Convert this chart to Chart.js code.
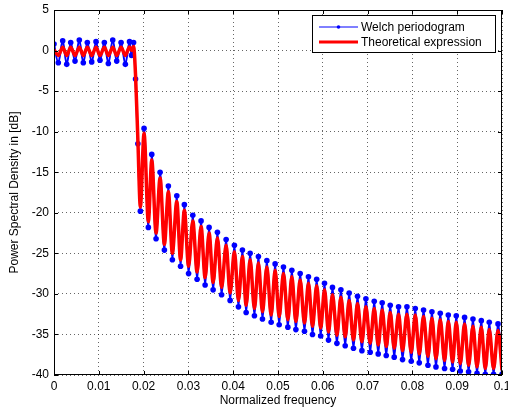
<!DOCTYPE html>
<html>
<head>
<meta charset="utf-8">
<title>Welch periodogram</title>
<script src="https://cdn.jsdelivr.net/npm/chart.js@4.4.0/dist/chart.umd.min.js"></script>
<style>
    html, body { margin: 0; padding: 0; background: #fff; }
    #grafica { display: block; }
</style>
</head>
<body>
<canvas id="grafica" width="508" height="408"></canvas>
<script>
// Frecuencias (maximos y minimos de cada rizado)
const freqs = [
    0, 0.00096, 0.00194, 0.00284, 0.00373, 0.00469, 0.00565, 0.00654,
    0.00744, 0.00842, 0.00938, 0.01027, 0.01124, 0.01213, 0.01311, 0.01400,
    0.01497, 0.01593, 0.01686, 0.01731, 0.01776, 0.01820, 0.01872, 0.01928,
    0.02010, 0.02106, 0.02182, 0.02278, 0.02368, 0.02464, 0.02553, 0.02642,
    0.02741, 0.02825, 0.02910, 0.03004, 0.03098, 0.03194, 0.03283, 0.03373,
    0.03462, 0.03552, 0.03648, 0.03741, 0.03842, 0.03931, 0.04027, 0.04117,
    0.04206, 0.04289, 0.04378, 0.04474, 0.04563, 0.04653, 0.04751, 0.04847,
    0.04936, 0.05026, 0.05122, 0.05220, 0.05309, 0.05399, 0.05495, 0.05591,
    0.05680, 0.05770, 0.05863, 0.05953, 0.06038, 0.06127, 0.06216, 0.06315,
    0.06404, 0.06500, 0.06589, 0.06685, 0.06775, 0.06873, 0.06962, 0.07058,
    0.07148, 0.07237, 0.07326, 0.07416, 0.07505, 0.07594, 0.07691, 0.07780,
    0.07878, 0.07974, 0.08064, 0.08153, 0.08249, 0.08347, 0.08436, 0.08526,
    0.08622, 0.08718, 0.08801, 0.08897, 0.08979, 0.09069, 0.09165, 0.09254,
    0.09352, 0.09442, 0.09538, 0.09627, 0.09716, 0.09812, 0.09911, 0.10000
];

const welchDb = [
    0.8, -1.5, 1.2, -1.7, 1.0, -1.3, 1.3, -1.5,
    1.0, -1.4, 1.1, -1.2, 1.0, -1.6, 1.3, -1.3,
    1.0, -1.7, 1.1, -0.6, 1.0, -3.5, -11.5, -19.8,
    -9.6, -21.8, -12.8, -23.2, -15.0, -24.6, -16.7, -25.8,
    -17.9, -26.6, -19.0, -27.5, -20.3, -28.2, -21.0, -28.9,
    -21.8, -29.5, -22.4, -30.1, -23.3, -30.8, -24.0, -31.6,
    -24.6, -32.3, -25.0, -32.7, -25.4, -33.1, -25.9, -33.5,
    -26.3, -33.8, -26.7, -34.1, -27.1, -34.4, -27.5, -34.6,
    -27.9, -35.0, -28.2, -35.2, -28.7, -35.7, -29.2, -36.1,
    -29.5, -36.4, -29.9, -36.7, -30.3, -37.0, -30.6, -37.2,
    -30.9, -37.4, -31.1, -37.6, -31.4, -37.8, -31.6, -38.1,
    -31.6, -38.3, -31.8, -38.5, -32.0, -38.8, -32.2, -39.0,
    -32.4, -39.2, -32.6, -39.3, -32.7, -39.5, -32.9, -39.6,
    -33.1, -39.8, -33.3, -39.9, -33.5, -39.9, -33.7, -39.9
];

const theoryDb = [
    0.1, -0.6, 0.4, -0.6, 0.4, -0.6, 0.4, -0.6,
    0.4, -0.6, 0.4, -0.6, 0.4, -0.6, 0.4, -0.6,
    0.4, -0.6, 0.45, 0.0, 0.5, -3, -11, -19.3,
    -10.2, -21.1, -13.5, -22.5, -15.7, -23.9, -17.4, -25.0,
    -18.6, -25.8, -19.7, -26.6, -21.0, -27.3, -21.7, -28.0,
    -22.5, -28.6, -23.1, -29.2, -24.0, -29.9, -24.8, -30.8,
    -25.4, -31.4, -25.8, -31.8, -26.2, -32.2, -26.7, -32.6,
    -27.1, -32.8, -27.5, -33.2, -27.9, -33.4, -28.3, -33.6,
    -28.7, -34.0, -29.0, -34.2, -29.5, -34.7, -30.1, -35.1,
    -30.4, -35.3, -30.8, -35.7, -31.2, -35.9, -31.6, -36.1,
    -31.8, -36.3, -32.0, -36.5, -32.3, -36.7, -32.5, -37.0,
    -32.5, -37.2, -32.6, -37.4, -32.8, -37.7, -33.0, -38.0,
    -33.2, -38.2, -33.4, -38.4, -33.5, -38.6, -33.7, -38.8,
    -34.0, -39.0, -34.1, -39.2, -34.4, -39.2, -34.5, -39.4
];

const xTicks = [0, 0.01, 0.02, 0.03, 0.04, 0.05, 0.06, 0.07, 0.08, 0.09, 0.1];
const yTicks = [5, 0, -5, -10, -15, -20, -25, -30, -35, -40];

const seriesNames = ['Welch periodogram', 'Theoretical expression'];

document.addEventListener('DOMContentLoaded', function () {
    Chart.defaults.font.family = "'Liberation Sans', Arial, Helvetica, sans-serif";
    Chart.defaults.font.size = 12;
    Chart.defaults.color = '#000';

    function toPoints(values) {
        return freqs.map((f, i) => ({ x: f, y: values[i] }));
    }

    function formatTick(v) {
        return String(+v.toFixed(2));
    }

    // Marco, marcas hacia dentro y leyenda al estilo MATLAB
    const marcoPlugin = {
        id: 'marco',
        afterDraw(chart) {
            const ctx = chart.ctx;
            const a = chart.chartArea;
            const sx = chart.scales.x;
            const sy = chart.scales.y;
            ctx.save();
            ctx.strokeStyle = '#000';
            ctx.lineWidth = 1;
            ctx.setLineDash([]);
            ctx.strokeRect(a.left + 0.5, a.top + 0.5, a.right - a.left - 1, a.bottom - a.top - 1);

            ctx.beginPath();
            sx.ticks.forEach(t => {
                const px = Math.round(sx.getPixelForValue(t.value)) + 0.5;
                ctx.moveTo(px, a.bottom); ctx.lineTo(px, a.bottom - 4);
                ctx.moveTo(px, a.top); ctx.lineTo(px, a.top + 4);
            });
            sy.ticks.forEach(t => {
                const py = Math.round(sy.getPixelForValue(t.value)) + 0.5;
                ctx.moveTo(a.left, py); ctx.lineTo(a.left + 4, py);
                ctx.moveTo(a.right, py); ctx.lineTo(a.right - 4, py);
            });
            ctx.stroke();

            // Leyenda
            const bx = 312, by = 15, bw = 183, bh = 37;
            ctx.fillStyle = '#fff';
            ctx.fillRect(bx, by, bw, bh);
            ctx.strokeRect(bx + 0.5, by + 0.5, bw, bh);

            const datasets = chart.data.datasets;
            ctx.font = "12px 'Liberation Sans', Arial, sans-serif";
            ctx.textBaseline = 'middle';
            datasets.forEach((ds, i) => {
                const ly = by + 12 + i * 15;
                ctx.strokeStyle = ds.borderColor;
                ctx.lineWidth = i === 0 ? 1 : 3;
                ctx.beginPath();
                ctx.moveTo(bx + 7, ly);
                ctx.lineTo(bx + 46, ly);
                ctx.stroke();
                if (ds.pointRadius > 0) {
                    ctx.fillStyle = ds.pointBackgroundColor;
                    ctx.beginPath();
                    ctx.arc(bx + 26.5, ly, 1.8, 0, Math.PI * 2);
                    ctx.fill();
                }
                ctx.fillStyle = '#000';
                ctx.fillText(ds.label, bx + 49, ly + 0.5);
            });
            ctx.restore();
        }
    };

    const ctx = document.getElementById('grafica').getContext('2d');
    new Chart(ctx, {
        type: 'line',
        data: {
            datasets: [{
                label: seriesNames[0],
                data: toPoints(welchDb),
                borderColor: '#0000ff',
                backgroundColor: '#0000ff',
                pointBackgroundColor: '#0000ff',
                borderWidth: 2,
                pointRadius: 2.8,
                pointBorderWidth: 0,
                cubicInterpolationMode: 'monotone',
                order: 2
            }, {
                label: seriesNames[1],
                data: toPoints(theoryDb),
                borderColor: '#ff0000',
                backgroundColor: '#ff0000',
                borderWidth: 3.5,
                pointRadius: 0,
                cubicInterpolationMode: 'monotone',
                order: 1
            }]
        },
        options: {
            responsive: false,
            animation: false,
            layout: { padding: { top: 10, right: 6, left: 0, bottom: 0 } },
            plugins: {
                legend: { display: false },
                tooltip: { enabled: false }
            },
            scales: {
                x: {
                    type: 'linear',
                    min: 0,
                    max: 0.1,
                    afterBuildTicks: scale => { scale.ticks = xTicks.map(v => ({ value: v })); },
                    afterFit: scale => {
                        scale.height = 33;
                        scale.paddingLeft = 0;
                        scale.paddingRight = 0;
                    },
                    ticks: { padding: 4, maxRotation: 0, autoSkip: false, callback: formatTick },
                    grid: { drawTicks: false, color: 'rgba(0,0,0,0.6)', lineWidth: 1 },
                    border: { display: false, dash: [1, 3] },
                    title: { display: true, text: 'Normalized frequency', padding: { top: 0, bottom: 0 } }
                },
                y: {
                    min: -40,
                    max: 5,
                    afterBuildTicks: scale => { scale.ticks = yTicks.map(v => ({ value: v })); },
                    afterFit: scale => {
                        scale.width = 54;
                        scale.paddingTop = 0;
                        scale.paddingBottom = 0;
                    },
                    ticks: { padding: 5, autoSkip: false, callback: formatTick },
                    grid: { drawTicks: false, color: 'rgba(0,0,0,0.6)', lineWidth: 1 },
                    border: { display: false, dash: [1, 3] },
                    title: { display: true, text: 'Power Spectral Density in [dB]', padding: { top: 7, bottom: 0 } }
                }
            }
        },
        plugins: [marcoPlugin]
    });
});
</script>
</body>
</html>
